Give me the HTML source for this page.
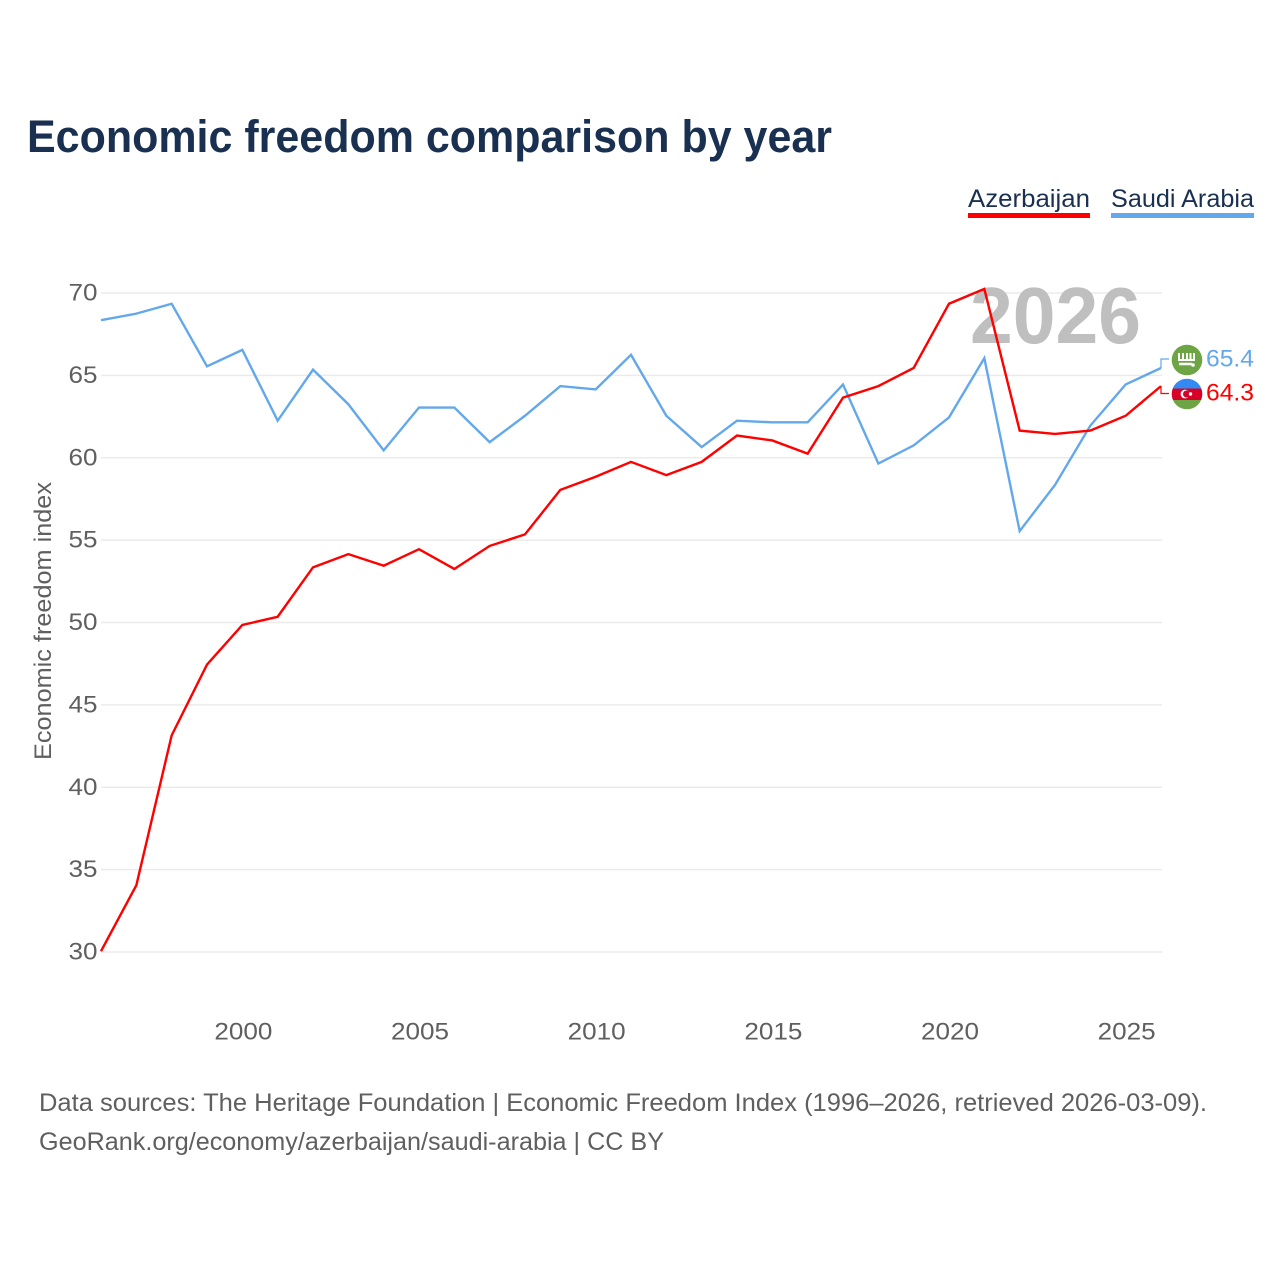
<!DOCTYPE html>
<html lang="en">
<head>
<meta charset="utf-8">
<title>Economic freedom comparison by year</title>
<style>
html,body{margin:0;padding:0;background:#fff;width:1280px;height:1280px;overflow:hidden}
svg{display:block}
text{font-family:"Liberation Sans",sans-serif}
</style>
</head>
<body>
<svg id="chart" width="1280" height="1280" viewBox="0 0 1280 1280" xmlns="http://www.w3.org/2000/svg">
  <defs>
    <clipPath id="clip-sa"><circle cx="1187" cy="360" r="15.300"/></clipPath>
    <clipPath id="clip-az"><circle cx="1187" cy="394" r="15.300"/></clipPath>
  </defs>
  <rect width="1280" height="1280" fill="#fff"/>
  <text x="27" y="152" font-size="45" font-weight="700" fill="#1a3050" textLength="805" lengthAdjust="spacingAndGlyphs">Economic freedom comparison by year</text>

  <g>
    <text x="968" y="207" font-size="25" fill="#1a3050" textLength="122" lengthAdjust="spacingAndGlyphs">Azerbaijan</text>
    <rect x="968" y="213" width="122" height="5" fill="#ff0000"/>
  </g>
  <g>
    <text x="1111" y="207" font-size="25" fill="#1a3050" textLength="143" lengthAdjust="spacingAndGlyphs">Saudi Arabia</text>
    <rect x="1111" y="213" width="143" height="5" fill="#63a8ea"/>
  </g>

  <g id="grid"></g>
  <g id="yticks"></g>
  <g id="xticks"></g>
  <text transform="translate(51,621) rotate(-90)" text-anchor="middle" font-size="24" fill="#5f5f5f" textLength="278" lengthAdjust="spacingAndGlyphs">Economic freedom index</text>

  <text x="970" y="343" font-size="80" font-weight="700" fill="#bfbfbf" textLength="171" lengthAdjust="spacingAndGlyphs">2026</text>

  <g id="series" transform="translate(0,-0.8)"></g>

  <g>
    <circle cx="1187" cy="360" r="15.300" fill="#6da544"/>
    <g fill="none" stroke="#fff" stroke-width="2" clip-path="url(#clip-sa)">
      <path d="M1179 353v7h15v-7M1183 353v7M1187 353v7M1190.500 353v7"/>
      <path d="M1179 364h13" stroke-width="2.400"/>
    </g>
    <circle cx="1193" cy="365" r="1.800" fill="#fff"/>
  </g>
  <g>
    <g clip-path="url(#clip-az)">
      <rect x="1171" y="378" width="32" height="10.500" fill="#338af3"/>
      <rect x="1171" y="388.500" width="32" height="11.500" fill="#d80027"/>
      <rect x="1171" y="400" width="32" height="10" fill="#6da544"/>
    </g>
    <circle cx="1185" cy="394" r="4.400" fill="#fff"/>
    <circle cx="1186.500" cy="394" r="3.500" fill="#d80027"/>
    <circle cx="1190.500" cy="394" r="1.700" fill="#fff"/>
  </g>
</svg>

<script>
const years = [1996,1997,1998,1999,2000,2001,2002,2003,2004,2005,2006,2007,2008,2009,2010,2011,2012,2013,2014,2015,2016,2017,2018,2019,2020,2021,2022,2023,2024,2025,2026];
const azerbaijan = [30.0,34.0,43.1,47.4,49.8,50.3,53.3,54.1,53.4,54.4,53.2,54.6,55.3,58.0,58.8,59.7,58.9,59.7,61.3,61.0,60.2,63.6,64.3,65.4,69.3,70.2,61.6,61.4,61.6,62.5,64.3];
const saudiArabia = [68.3,68.7,69.3,65.5,66.5,62.2,65.3,63.2,60.4,63.0,63.0,60.9,62.5,64.3,64.1,66.2,62.5,60.6,62.2,62.1,62.1,64.4,59.6,60.7,62.4,66.0,55.5,58.3,61.9,64.4,65.4];
const yTickValues = [30,35,40,45,50,55,60,65,70];
const xTickValues = [2000,2005,2010,2015,2020,2025];
const footerLines = ["Data sources: The Heritage Foundation | Economic Freedom Index (1996–2026, retrieved 2026-03-09).","GeoRank.org/economy/azerbaijan/saudi-arabia | CC BY"];

const NS = "http://www.w3.org/2000/svg";
const xScale = function (year) { return 101 + (year - 1996) * (1161 - 101) / 30; };
const yScale = function (value) { return 952 - (value - 30) * (952 - 293) / 40; };
const svg = document.getElementById("chart");

function make(tag, attrs, text) {
  const el = document.createElementNS(NS, tag);
  for (const k in attrs) el.setAttribute(k, attrs[k]);
  if (text !== undefined) el.textContent = text;
  return el;
}

const grid = document.getElementById("grid");
const yticks = document.getElementById("yticks");
yTickValues.forEach(function (v) {
  const line = make("line", {x1: 101, x2: 1162, y1: yScale(v), y2: yScale(v), stroke: "#ebebeb", "stroke-width": 1.5});
  
  
  grid.appendChild(line);
  const label = make("text", {x: 97.5, y: yScale(v) + 7.500, "text-anchor": "end", "font-size": 24, fill: "#5f5f5f", textLength: 29, lengthAdjust: "spacingAndGlyphs"}, String(v));
  
  
  yticks.appendChild(label);
});

const xticks = document.getElementById("xticks");
xTickValues.forEach(function (v) {
  const label = make("text", {x: xScale(v) + 1, y: 1039.5, "text-anchor": "middle", "font-size": 24, fill: "#5f5f5f", textLength: 58, lengthAdjust: "spacingAndGlyphs"}, String(v));
  
  
  xticks.appendChild(label);
});

const seriesGroup = document.getElementById("series");
function drawSeries(values, color, name, labelY, flagY) {
  const pts = values.map(function (v, i) { return xScale(years[i]).toFixed(2) + "," + yScale(v).toFixed(2); }).join(" ");
  const line = make("polyline", {points: pts, fill: "none", stroke: color, "stroke-width": 2.4, "stroke-linejoin": "miter"});
  
  
  seriesGroup.appendChild(line);

  const last = values[values.length - 1];
  const ex = xScale(years[years.length - 1]);
  const ey = yScale(last);
  const connector = make("path", {d: "M" + ex + " " + ey + "V" + (flagY + 0.8) + "H1169", fill: "none", stroke: color, "stroke-width": 1.2});
  
  
  seriesGroup.appendChild(connector);

  const label = make("text", {x: 1206, y: labelY + 0.3, "font-size": 24, fill: color, textLength: 48, lengthAdjust: "spacingAndGlyphs"}, last.toFixed(1));
  
  
  seriesGroup.appendChild(label);
}
drawSeries(saudiArabia, "#63a8ea", "saudi-arabia", 367, 359);
drawSeries(azerbaijan, "#ff0000", "azerbaijan", 401, 393.5);

const footerWidths = [1168, 625];
footerLines.forEach(function (t, i) {
  const el = make("text", {x: 39, y: 1111 + i * 39, "font-size": 25, fill: "#5f5f5f", textLength: footerWidths[i], lengthAdjust: "spacingAndGlyphs"}, t);
  
  
  svg.appendChild(el);
});
</script>
</body>
</html>
